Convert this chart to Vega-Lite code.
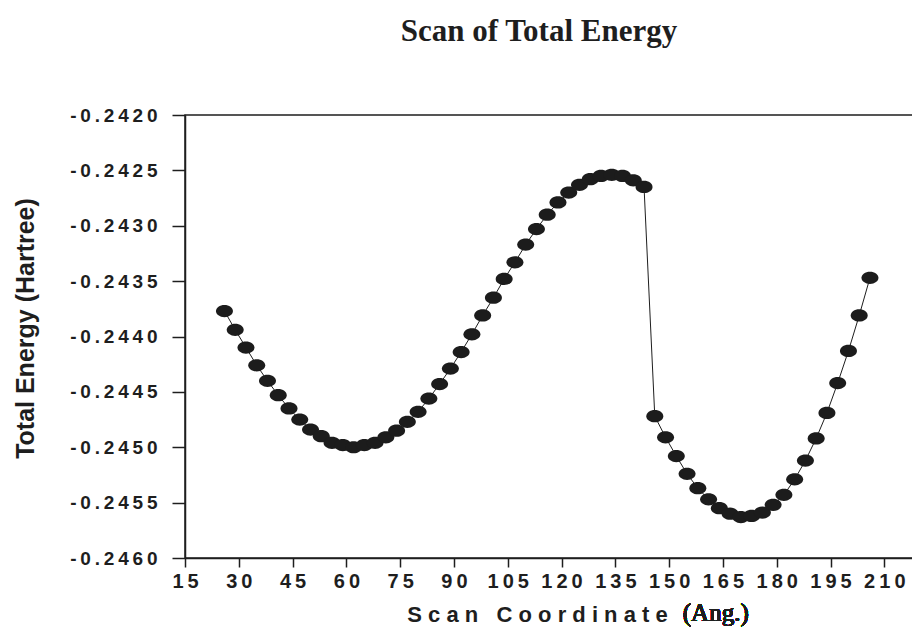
{
  "$schema": "https://vega.github.io/schema/vega-lite/v6.json",
  "autosize": {"type": "none"},
  "padding": {"left": 185, "top": 115, "right": 0, "bottom": 69},
  "width": 728,
  "height": 443,
  "background": "white",
  "config": {
    "view": {"stroke": "#1e1e1e", "strokeWidth": 1.5},
    "axis": {"labelFont": "Liberation Sans", "titleFont": "Liberation Sans", "labelColor": "#1e1e1e", "titleColor": "#1e1e1e", "domainColor": "#1e1e1e", "tickColor": "#1e1e1e", "domainWidth": 1.5, "tickWidth": 1.5, "grid": false}
  },
  "title": {"text": "Scan of Total Energy", "font": "Liberation Serif", "fontSize": 31, "fontWeight": "bold", "color": "#1e1e1e", "anchor": "middle", "offset": 58, "dx": -10},
  "data": {"values": [
    {"coord": 26, "energy": -0.24377}, {"coord": 29, "energy": -0.24394}, {"coord": 32, "energy": -0.24410}, {"coord": 35, "energy": -0.24426},
    {"coord": 38, "energy": -0.24440}, {"coord": 41, "energy": -0.24453}, {"coord": 44, "energy": -0.24465}, {"coord": 47, "energy": -0.24475},
    {"coord": 50, "energy": -0.24484}, {"coord": 53, "energy": -0.24490}, {"coord": 56, "energy": -0.24496}, {"coord": 59, "energy": -0.24498},
    {"coord": 62, "energy": -0.24500}, {"coord": 65, "energy": -0.24498}, {"coord": 68, "energy": -0.24496}, {"coord": 71, "energy": -0.24491},
    {"coord": 74, "energy": -0.24485}, {"coord": 77, "energy": -0.24477}, {"coord": 80, "energy": -0.24468}, {"coord": 83, "energy": -0.24456},
    {"coord": 86, "energy": -0.24443}, {"coord": 89, "energy": -0.24429}, {"coord": 92, "energy": -0.24414}, {"coord": 95, "energy": -0.24398},
    {"coord": 98, "energy": -0.24381}, {"coord": 101, "energy": -0.24365}, {"coord": 104, "energy": -0.24348}, {"coord": 107, "energy": -0.24333},
    {"coord": 110, "energy": -0.24317}, {"coord": 113, "energy": -0.24303}, {"coord": 116, "energy": -0.24290}, {"coord": 119, "energy": -0.24279},
    {"coord": 122, "energy": -0.24270}, {"coord": 125, "energy": -0.24263}, {"coord": 128, "energy": -0.24258}, {"coord": 131, "energy": -0.24255},
    {"coord": 134, "energy": -0.24254}, {"coord": 137, "energy": -0.24255}, {"coord": 140, "energy": -0.24259}, {"coord": 143, "energy": -0.24265},
    {"coord": 146, "energy": -0.24472}, {"coord": 149, "energy": -0.24491}, {"coord": 152, "energy": -0.24508}, {"coord": 155, "energy": -0.24524},
    {"coord": 158, "energy": -0.24537}, {"coord": 161, "energy": -0.24547}, {"coord": 164, "energy": -0.24555}, {"coord": 167, "energy": -0.24560},
    {"coord": 170, "energy": -0.24563}, {"coord": 173, "energy": -0.24562}, {"coord": 176, "energy": -0.24559}, {"coord": 179, "energy": -0.24552},
    {"coord": 182, "energy": -0.24543}, {"coord": 185, "energy": -0.24529}, {"coord": 188, "energy": -0.24512}, {"coord": 191, "energy": -0.24492},
    {"coord": 194, "energy": -0.24469}, {"coord": 197, "energy": -0.24442}, {"coord": 200, "energy": -0.24413}, {"coord": 203, "energy": -0.24381},
    {"coord": 206, "energy": -0.24347}
  ]},
  "layer": [
    {
      "mark": {"type": "line", "color": "#1e1e1e", "strokeWidth": 1},
      "encoding": {
        "x": {"field": "coord", "type": "quantitative",
          "scale": {"domain": [15, 218], "nice": false, "zero": false},
          "axis": {
            "values": [15, 22.5, 30, 37.5, 45, 52.5, 60, 67.5, 75, 82.5, 90, 97.5, 105, 112.5, 120, 127.5, 135, 142.5, 150, 157.5, 165, 172.5, 180, 187.5, 195, 202.5, 210, 217.5],
            "format": ".0f",
            "labelExpr": "datum.value % 15 === 0 ? join(split(datum.label, ''), '\u2009') : ''",
            "tickSize": {"condition": {"test": "datum.value % 15 === 0", "value": 9}, "value": 5},
            "labelFontSize": 20, "labelFontWeight": "bold", "labelPadding": 4, "labelDx": -18,
            "labelOverlap": false, "labelFlush": false,
            "title": "S c a n\u00a0\u00a0\u00a0C o o r d i n a t e",
            "titleFontSize": 22, "titleFontWeight": "bold",
            "titleX": 352, "titleY": 63, "titleBaseline": "alphabetic", "titleAlign": "center"
          }
        },
        "y": {"field": "energy", "type": "quantitative",
          "scale": {"domain": [-0.246, -0.242], "nice": false, "zero": false},
          "axis": {
            "values": [-0.246, -0.24575, -0.2455, -0.24525, -0.245, -0.24475, -0.2445, -0.24425, -0.244, -0.24375, -0.2435, -0.24325, -0.243, -0.24275, -0.2425, -0.24225, -0.242],
            "format": ".4f",
            "labelExpr": "abs(datum.value*2000 - round(datum.value*2000)) < 0.01 ? join(split(replace(datum.label, '\u2212', '-'), ''), '\u2009') : ''",
            "tickSize": {"condition": {"test": "abs(datum.value*2000 - round(datum.value*2000)) < 0.01", "value": 13}, "value": 5},
            "labelFontSize": 19, "labelFontWeight": "bold", "labelPadding": 15,
            "labelOverlap": false, "labelFlush": false,
            "title": "Total Energy (Hartree)",
            "titleFontSize": 25, "titleFontWeight": "bold",
            "titleX": -160, "titleY": 213, "titleBaseline": "middle", "titleAlign": "center", "titleAngle": -90
          }
        }
      }
    },
    {
      "mark": {"type": "point", "filled": true, "opacity": 1, "color": "#1c1c1c", "size": 289,
        "shape": "M-1,0A1,0.72,0,1,1,1,0A1,0.72,0,1,1,-1,0Z"},
      "encoding": {
        "x": {"field": "coord", "type": "quantitative"},
        "y": {"field": "energy", "type": "quantitative"}
      }
    },
    {
      "mark": {"type": "text", "text": "(Ang.)", "font": "Liberation Serif", "fontSize": 25, "fontWeight": 400, "fill": "#1e1e1e", "strokeWidth": 0, "align": "center", "baseline": "alphabetic", "dy": 63},
      "encoding": {
        "x": {"datum": 163, "type": "quantitative"},
        "y": {"datum": -0.246, "type": "quantitative"}
      }
    }
  ]
}
